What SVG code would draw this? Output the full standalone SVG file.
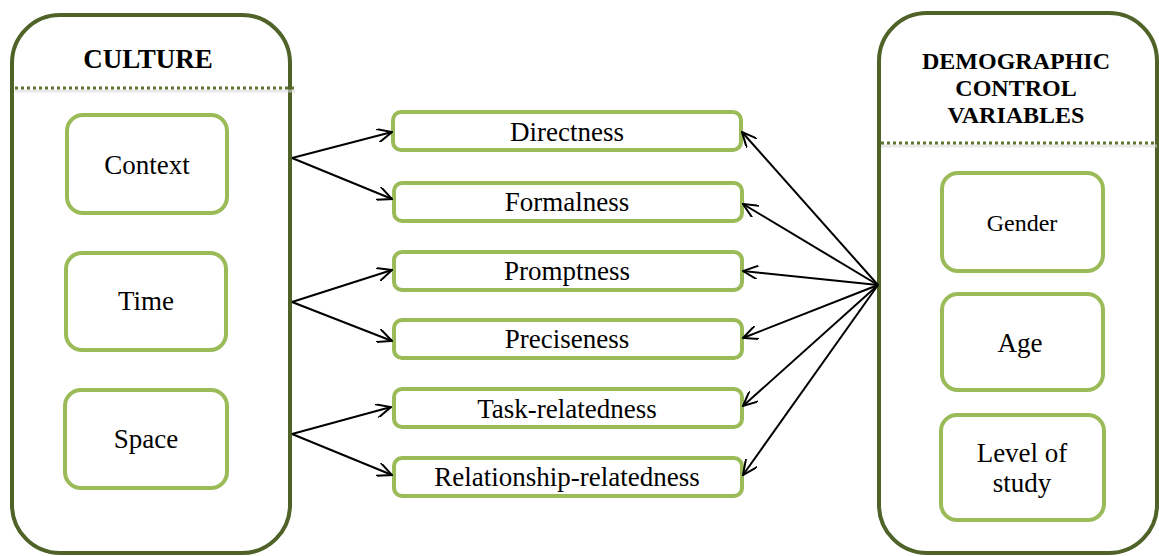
<svg xmlns="http://www.w3.org/2000/svg" width="1159" height="556" viewBox="0 0 1159 556">
<style>
.outer{fill:#fff;stroke:#4f6228;stroke-width:4}
.inner{fill:#fff;stroke:#9bbb59;stroke-width:4}
.dots{stroke:#5f7530;stroke-width:3;stroke-dasharray:3 3;fill:none}
.shadow{stroke:#d9d9d9;stroke-width:3;fill:none;opacity:0.6}
.t{fill:#000;text-anchor:middle}
.lbl{font-size:27px}
.hd{font-size:27px;font-weight:bold}
.hd2{font-size:24px;font-weight:bold}
.conn{stroke:#000;stroke-width:2;fill:none;marker-end:url(#ah)}
</style>
<defs>
<marker id="ah" viewBox="0 0 16 14" refX="15" refY="7" markerWidth="16" markerHeight="14" markerUnits="userSpaceOnUse" orient="auto">
<path d="M0,0 L15,7 L0,14" fill="none" stroke="#000" stroke-width="2"/>
</marker>
</defs>
<rect width="1159" height="556" fill="#fff"/>
<g font-family="'Liberation Serif', 'Times New Roman', Tinos, 'DejaVu Serif', serif">
<g id="culture">
<rect class="outer" x="12" y="15" width="278" height="538" rx="48"/>
<line class="shadow" x1="15" y1="91" x2="295" y2="91"/>
<line class="dots" x1="15" y1="88" x2="295" y2="88"/>
<text class="t hd" x="148" y="68">CULTURE</text>
</g>
<g id="context"><rect class="inner" x="67" y="115" width="160" height="98" rx="16"/><text class="t lbl" x="147" y="174">Context</text></g>
<g id="time"><rect class="inner" x="66" y="253" width="160" height="97" rx="16"/><text class="t lbl" x="146" y="310">Time</text></g>
<g id="space"><rect class="inner" x="65" y="390" width="162" height="98" rx="16"/><text class="t lbl" x="146" y="448">Space</text></g>
<g id="demographic">
<rect class="outer" x="879" y="13" width="278" height="540" rx="48"/>
<line class="shadow" x1="881" y1="146" x2="1157" y2="146"/>
<line class="dots" x1="881" y1="143" x2="1157" y2="143"/>
<text class="t hd2" x="1016" y="69">DEMOGRAPHIC</text>
<text class="t hd2" x="1016" y="96">CONTROL</text>
<text class="t hd2" x="1016" y="123">VARIABLES</text>
</g>
<g id="gender"><rect class="inner" x="942" y="173" width="161" height="98" rx="16"/><text class="t" font-size="24" x="1022" y="231">Gender</text></g>
<g id="age"><rect class="inner" x="942" y="294" width="161" height="96" rx="16"/><text class="t lbl" x="1020" y="352">Age</text></g>
<g id="level"><rect class="inner" x="941" y="415" width="163" height="105" rx="16"/><text class="t lbl" x="1022" y="462">Level of</text><text class="t lbl" x="1022" y="492">study</text></g>
<g id="directness"><rect class="inner" x="393" y="112" width="348" height="38" rx="8"/><text class="t lbl" x="567" y="141">Directness</text></g>
<g id="formalness"><rect class="inner" x="394" y="183" width="348" height="38" rx="8"/><text class="t lbl" x="567" y="211">Formalness</text></g>
<g id="promptness"><rect class="inner" x="394" y="252" width="348" height="38" rx="8"/><text class="t lbl" x="567" y="280">Promptness</text></g>
<g id="preciseness"><rect class="inner" x="394" y="320" width="348" height="38" rx="8"/><text class="t lbl" x="567" y="348">Preciseness</text></g>
<g id="task"><rect class="inner" x="394" y="389" width="348" height="38" rx="8"/><text class="t lbl" x="567" y="418">Task-relatedness</text></g>
<g id="relationship"><rect class="inner" x="394" y="458" width="348" height="38" rx="8"/><text class="t lbl" x="567" y="486">Relationship-relatedness</text></g>
</g>
<g id="connectors">
<line class="conn" x1="292" y1="158" x2="392" y2="132"/>
<line class="conn" x1="292" y1="158" x2="392" y2="199"/>
<line class="conn" x1="292" y1="302" x2="392" y2="270"/>
<line class="conn" x1="292" y1="302" x2="392" y2="341"/>
<line class="conn" x1="292" y1="434" x2="391" y2="407"/>
<line class="conn" x1="292" y1="434" x2="392" y2="475"/>
<line class="conn" x1="878" y1="285" x2="742" y2="132"/>
<line class="conn" x1="878" y1="285" x2="743" y2="204"/>
<line class="conn" x1="878" y1="285" x2="743" y2="271"/>
<line class="conn" x1="878" y1="285" x2="743" y2="338"/>
<line class="conn" x1="878" y1="285" x2="743" y2="406"/>
<line class="conn" x1="878" y1="285" x2="743" y2="475"/>
</g>
</svg>
